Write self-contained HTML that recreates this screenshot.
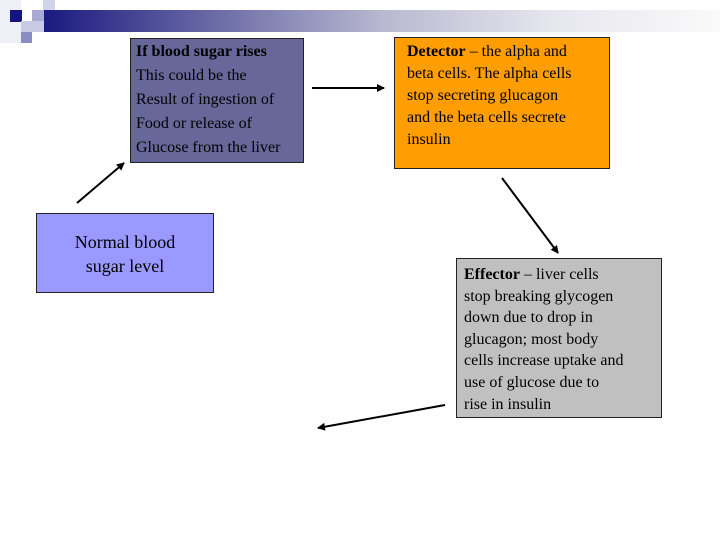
<!DOCTYPE html>
<html><head><style>
body{margin:0;width:720px;height:540px;position:relative;background:#fff;font-family:"Liberation Serif",serif;overflow:hidden}
.b{position:absolute;box-sizing:border-box;border:1px solid #222;color:#000;font-size:16px;line-height:24px}
.sq{position:absolute}
</style></head><body>
<div class="sq" style="left:0;top:0;width:21px;height:43px;background:#eef0f8"></div>
<div class="sq" style="left:43px;top:0;width:12px;height:10px;background:#d0d4ea"></div>
<div class="sq" style="left:32px;top:10px;width:23px;height:12px;background:#a8aad4"></div>
<div class="sq" style="left:10px;top:10px;width:12px;height:12px;background:#141480"></div>
<div class="sq" style="left:21px;top:21px;width:23px;height:11px;background:#c8cae6"></div>
<div class="sq" style="left:21px;top:32px;width:11px;height:11px;background:#8a8cc4"></div>
<div class="sq" style="left:44px;top:10px;width:676px;height:22px;background:linear-gradient(to right,#1a1a80 0%,#6a6aa6 25%,#b8b8d0 50%,#e6e6ee 75%,#fafafa 100%)"></div>

<div class="b" style="left:130px;top:38px;width:174px;height:125px;background:#676799;padding:1px 0 0 5px;font-size:16px">
<b>If blood sugar rises</b><br>This could be the<br>Result of ingestion of<br>Food or release of<br>Glucose from the liver</div>

<div class="b" style="left:394px;top:37px;width:216px;height:132px;background:#ff9e02;padding:3px 0 0 12px;line-height:22px">
<b>Detector</b> – the alpha and<br>beta cells. The alpha cells<br>stop secreting glucagon<br>and the beta cells secrete<br>insulin</div>

<div class="b" style="left:36px;top:213px;width:178px;height:80px;background:#9999ff;text-align:center;font-size:18px;padding-top:16px">Normal blood<br>sugar level</div>

<div class="b" style="left:456px;top:258px;width:206px;height:160px;background:#c0c0c0;padding:5px 0 0 7px;line-height:21.6px">
<b>Effector</b> – liver cells<br>stop breaking glycogen<br>down due to drop in<br>glucagon; most body<br>cells increase uptake and<br>use of glucose due to<br>rise in insulin</div>

<svg width="720" height="540" style="position:absolute;left:0;top:0">
<defs><marker id="a" markerWidth="8" markerHeight="8" refX="7" refY="4" orient="auto" markerUnits="userSpaceOnUse"><path d="M0,0 L8,4 L0,8 z" fill="#000"/></marker></defs>
<g stroke="#000" stroke-width="2" fill="none" marker-end="url(#a)">
<line x1="77" y1="203" x2="124" y2="163"/>
<line x1="312" y1="88" x2="384" y2="88"/>
<line x1="502" y1="178" x2="558" y2="253"/>
<line x1="445" y1="405" x2="318" y2="428"/>
</g></svg>
</body></html>
